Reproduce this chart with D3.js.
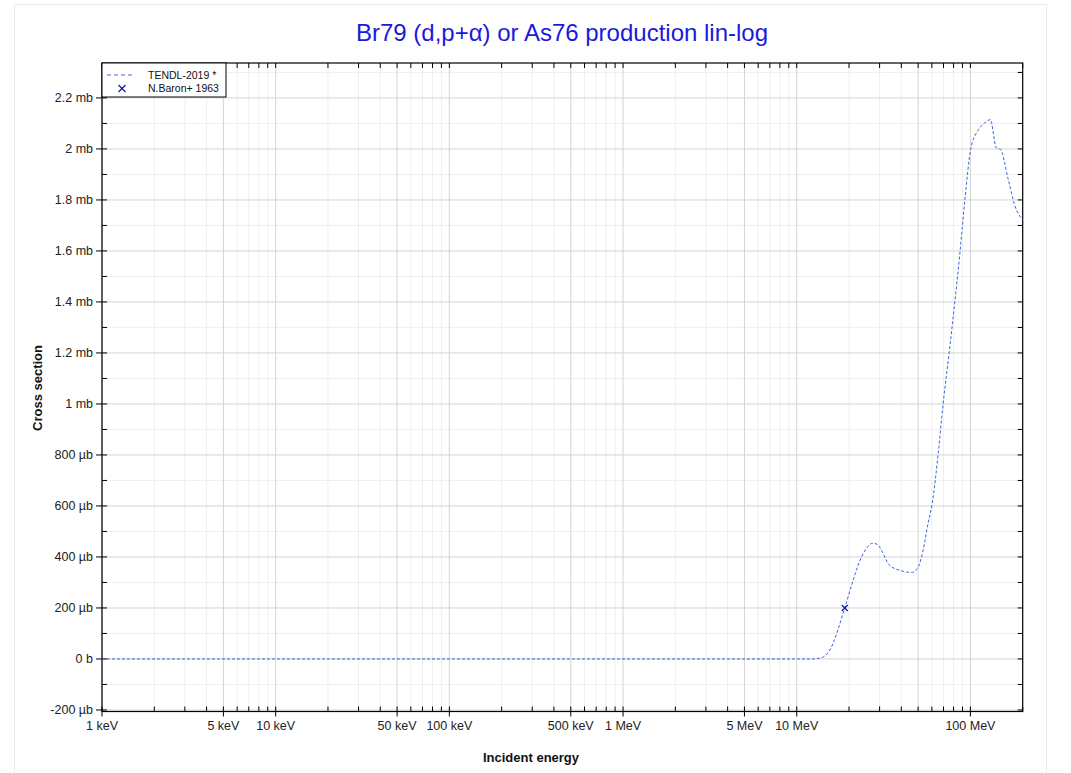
<!DOCTYPE html>
<html><head><meta charset="utf-8">
<script src="https://cdn.jsdelivr.net/npm/d3@7"></script>
<style>body{margin:0;background:#fff;} svg{display:block;font-family:"Liberation Sans",Arial,sans-serif;}</style>
</head><body>
<svg id="c" width="1071" height="773"></svg>
<script>
// TENDL-2019 curve: energy in eV, cross section in µb
const tendlEnergy = [1e3, 1e4, 1e5, 1e6, 5e6, 1e7, 12e6, 13.6e6, 15.5e6, 18.9e6, 21.1e6, 23.6e6, 27.5e6, 29e6, 34.3e6, 39.2e6, 45.8e6, 50e6, 53.4e6, 57e6, 60.4e6, 65.2e6, 69.6e6, 75.4e6, 81.2e6, 86.8e6, 92.7e6, 100.5e6, 110.6e6, 120.9e6, 130.3e6, 141e6, 148.9e6, 164.6e6, 179.7e6, 200e6];
const tendlXS = [0, 0, 0, 0, 0, 0, 0, 3, 35, 200, 308, 400, 454, 450, 367, 348, 339, 360, 426, 531, 615, 803, 999, 1200, 1396, 1585, 1793, 2001, 2073, 2102, 2115, 2004, 1999, 1884, 1780, 1722];
// N.Baron+ 1963 data
const baronEnergy = [18.9e6];
const baronXS = [200];
// axis ticks
const xTickValues = [1e3, 5e3, 1e4, 5e4, 1e5, 5e5, 1e6, 5e6, 1e7, 1e8];
const xTickLabels = ["1 keV", "5 keV", "10 keV", "50 keV", "100 keV", "500 keV", "1 MeV", "5 MeV", "10 MeV", "100 MeV"];
const yTickValues = [-200, 0, 200, 400, 600, 800, 1000, 1200, 1400, 1600, 1800, 2000, 2200];
const yTickLabels = ["-200 µb", "0 b", "200 µb", "400 µb", "600 µb", "800 µb", "1 mb", "1.2 mb", "1.4 mb", "1.6 mb", "1.8 mb", "2 mb", "2.2 mb"];
const legendLabels = ["TENDL-2019 *", "N.Baron+ 1963"];

const svg = d3.select("#c");
const L = 102, R = 1022.7, T = 63, B = 711.5;
const x = d3.scaleLog().domain([1e3, 2e8]).range([L, R]);
const y = d3.scaleLinear().domain([-206, 2337]).range([B, T]);

// figure border
svg.append("rect").attr("x", 14.5).attr("y", 4.5).attr("width", 1032).attr("height", 790)
  .attr("fill", "none").attr("stroke", "#ebebeb");

const xMinor = [], xMajorGrid = [], xAllTicks = [];
for (let d = 1e3; d < 2e8; d *= 10) {
  for (let k = 1; k <= 9; k++) {
    const v = d * k;
    if (v > 2e8) break;
    xAllTicks.push(v);
    if (k === 1 || k === 5) xMajorGrid.push(v); else xMinor.push(v);
  }
}
const yMinor = d3.range(-200, 2301, 100).filter(v => v % 200 !== 0);

const g = svg.append("g");
g.selectAll(".xm").data(xMinor).enter().append("line")
  .attr("x1", d => x(d)).attr("x2", d => x(d)).attr("y1", T).attr("y2", B)
  .attr("stroke", "#efefef").attr("stroke-width", 1);
g.selectAll(".ym").data(yMinor).enter().append("line")
  .attr("x1", L).attr("x2", R).attr("y1", d => y(d)).attr("y2", d => y(d))
  .attr("stroke", "#efefef").attr("stroke-width", 1);
g.selectAll(".xM").data(xMajorGrid).enter().append("line")
  .attr("x1", d => x(d)).attr("x2", d => x(d)).attr("y1", T).attr("y2", B)
  .attr("stroke", "#d4d4d4").attr("stroke-width", 1);
g.selectAll(".yM").data(yTickValues).enter().append("line")
  .attr("x1", L).attr("x2", R).attr("y1", d => y(d)).attr("y2", d => y(d))
  .attr("stroke", "#d4d4d4").attr("stroke-width", 1);

svg.append("rect").attr("x", L).attr("y", T).attr("width", R - L).attr("height", B - T)
  .attr("fill", "none").attr("stroke", "#000").attr("stroke-width", 1.2);

const tk = svg.append("g").attr("stroke", "#000").attr("stroke-width", 1);
xAllTicks.forEach(v => {
  const major = xTickValues.includes(v);
  tk.append("line").attr("x1", x(v)).attr("x2", x(v)).attr("y1", B - 5).attr("y2", major ? B + 5 : B);
  tk.append("line").attr("x1", x(v)).attr("x2", x(v)).attr("y1", T).attr("y2", T + 5);
});
d3.range(-200, 2301, 100).forEach(v => {
  const major = v % 200 === 0;
  tk.append("line").attr("y1", y(v)).attr("y2", y(v)).attr("x1", major ? L - 6 : L).attr("x2", L + 5);
  tk.append("line").attr("y1", y(v)).attr("y2", y(v)).attr("x1", R - 5).attr("x2", R);
});

svg.append("g").selectAll("text").data(xTickValues).enter().append("text")
  .attr("x", d => x(d)).attr("y", B + 18).attr("text-anchor", "middle")
  .attr("font-size", 12.5).attr("fill", "#222").text((d, i) => xTickLabels[i]);
svg.append("g").selectAll("text").data(yTickValues).enter().append("text")
  .attr("x", L - 9).attr("y", d => y(d) + 4).attr("text-anchor", "end")
  .attr("font-size", 12.5).attr("fill", "#222").text((d, i) => yTickLabels[i]);

svg.append("text").attr("x", 562).attr("y", 41).attr("text-anchor", "middle")
  .attr("font-size", 24).attr("fill", "#1a1adb").text("Br79 (d,p+α) or As76 production lin-log");
svg.append("text").attr("x", 531).attr("y", 762).attr("text-anchor", "middle")
  .attr("font-size", 13).attr("font-weight", "bold").attr("fill", "#111").text("Incident energy");
svg.append("text").attr("transform", "translate(42,388) rotate(-90)").attr("text-anchor", "middle")
  .attr("font-size", 13).attr("font-weight", "bold").attr("fill", "#111").text("Cross section");

svg.append("clipPath").attr("id", "clp").append("rect")
  .attr("x", L).attr("y", T).attr("width", R - L).attr("height", B - T);
const line = d3.line().x(d => x(d[0])).y(d => y(d[1])).curve(d3.curveMonotoneX);
svg.append("path").datum(tendlEnergy.map((e, i) => [e, tendlXS[i]]))
  .attr("clip-path", "url(#clp)")
  .attr("d", line).attr("fill", "none").attr("stroke", "#3d63e0").attr("stroke-width", 1)
  .attr("stroke-dasharray", "3,2");

const cross = (sel, cx, cy, s) => {
  sel.append("path").attr("d", `M${cx - s},${cy - s}L${cx + s},${cy + s}M${cx - s},${cy + s}L${cx + s},${cy - s}`)
    .attr("stroke", "#1010b0").attr("stroke-width", 1.2).attr("fill", "none");
};
baronEnergy.forEach((e, i) => cross(svg, x(e), y(baronXS[i]), 3));

const lg = svg.append("g");
lg.append("rect").attr("x", 102).attr("y", 63).attr("width", 124).attr("height", 34)
  .attr("fill", "#fff").attr("stroke", "#000").attr("stroke-width", 1);
lg.append("line").attr("x1", 107).attr("x2", 134).attr("y1", 75).attr("y2", 75)
  .attr("stroke", "#3d63e0").attr("stroke-width", 1.2).attr("stroke-dasharray", "4,3");
cross(lg, 122, 88.5, 3.5);
lg.selectAll("text").data(legendLabels).enter().append("text")
  .attr("x", 148).attr("y", (d, i) => 78.5 + i * 13).attr("font-size", 10.5).attr("fill", "#111").text(d => d);
</script>
</body></html>
